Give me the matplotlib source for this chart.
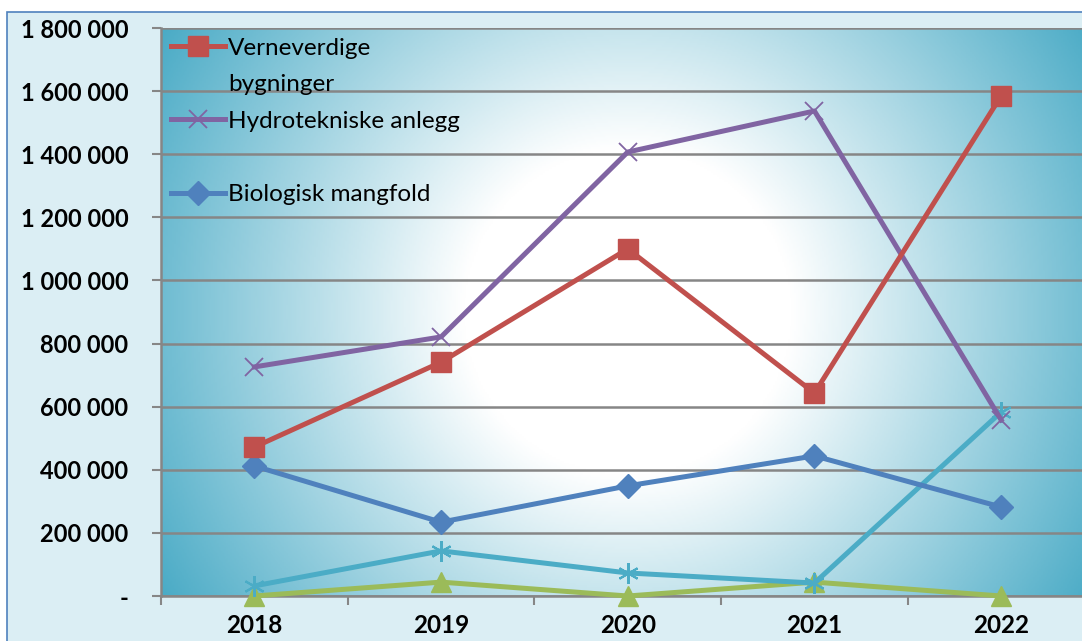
import matplotlib
matplotlib.use('Agg')
from matplotlib import pyplot as plt
from matplotlib.lines import Line2D
from matplotlib.patches import Rectangle
from matplotlib.colors import LinearSegmentedColormap
import numpy as np

plt.rcParams['font.family'] = ['Lato', 'DejaVu Sans']

years = ['2018', '2019', '2020', '2021', '2022']
verneverdige = [472000, 741000, 1100000, 643000, 1585000]
hydroteknisk = [726000, 821000, 1407000, 1537000, 558000]
biologisk = [412000, 234000, 349000, 444000, 282000]
serie4 = [32000, 143000, 73000, 41000, 583000]
serie5 = [0, 44000, 0, 44000, 0]
yticks = [0, 200000, 400000, 600000, 800000, 1000000, 1200000, 1400000, 1600000, 1800000]


def fmt(v):
    if v == 0:
        return '-'
    return '{:,}'.format(v).replace(',', ' ')


W, H = 1082, 641
fig = plt.figure(figsize=(W / 100, H / 100), dpi=100)
fig.patch.set_facecolor('white')
# chart area frame
frame = Rectangle((7 / W, -0.1), 1.2, 1 - 12 / H + 0.1, transform=fig.transFigure,
                  facecolor='#dbeef4', edgecolor='#4f81bd', lw=1.2, zorder=-10)
fig.patches.append(frame)

left, right, top, bottom = 161, 1094.5, 28, 596
pw, ph = right - left, bottom - top
ax = fig.add_axes([left / W, 1 - bottom / H, pw / W, ph / H])
ax.set_facecolor('none')

# radial gradient background (round in pixel space)
gx, gy = np.meshgrid(np.linspace(-pw / 2, pw / 2, 500), np.linspace(-ph / 2, ph / 2, 300))
r = np.sqrt(gx ** 2 + gy ** 2) / np.sqrt((pw / 2) ** 2 + (ph / 2) ** 2)
cmap = LinearSegmentedColormap.from_list('g', [(0, '#ffffff'), (0.3, '#ffffff'), (1, '#4aabc6')])
ax.imshow(r, cmap=cmap, extent=[0, 1, 0, 1], transform=ax.transAxes, aspect='auto', zorder=0, vmin=0, vmax=1)

x = np.arange(len(years))
lw = 3.6
ax.plot(x, serie5, color='#9bbb59', lw=lw, marker='^', ms=15, zorder=3, clip_on=False)
ax.plot(x, serie4, color='#4bacc6', lw=lw, marker=(6, 2, 0), ms=15, mew=1.5, zorder=4, clip_on=False)
ax.plot(x, biologisk, color='#4f81bd', lw=lw, marker='D', ms=12, zorder=5, clip_on=False)
ax.plot(x, hydroteknisk, color='#8064a2', lw=lw, marker='x', ms=13, mew=1.3, zorder=6, clip_on=False)
ax.plot(x, verneverdige, color='#c0504d', lw=lw, marker='s', ms=14, zorder=7, clip_on=False)

ax.set_xlim(-0.5, len(years) - 0.5)
ax.set_ylim(0, 1800000)
ax.set_yticks(yticks)
ax.set_yticklabels([fmt(v) for v in yticks], fontweight='bold', fontsize=17)
ax.set_xticks(x)
ax.set_xticklabels(years, fontweight='bold', fontsize=17.5)
ax.set_xticks(np.arange(len(years) + 1) - 0.5, minor=True)
ax.tick_params(axis='x', which='major', length=0, pad=13)
ax.tick_params(axis='x', which='minor', length=6.5, width=1.5, color='#868686', direction='out')
ax.tick_params(axis='y', length=6.5, width=1.5, color='#868686', pad=17)
ax.grid(axis='y', color='#868686', lw=1.8, zorder=1)
ax.set_axisbelow(True)
for s in ['top', 'right']:
    ax.spines[s].set_visible(False)
for s in ['left', 'bottom']:
    ax.spines[s].set_color('#868686')
    ax.spines[s].set_linewidth(1.8)

blank = Line2D([], [], color='none')
handles = [
    Line2D([], [], color='#c0504d', lw=lw, marker='s', ms=14),
    blank,
    Line2D([], [], color='#8064a2', lw=lw, marker='x', ms=13, mew=1.3),
    blank,
    Line2D([], [], color='#4f81bd', lw=lw, marker='D', ms=12),
]
labels = ['Verneverdige', 'bygninger', 'Hydrotekniske anlegg', '', 'Biologisk mangfold']
leg = ax.legend(handles, labels, loc='upper left', bbox_to_anchor=(0.0, 1.0), frameon=False,
                fontsize=17.5, handlelength=2.25, handletextpad=0.1, labelspacing=0.64,
                borderaxespad=0.0)
leg.set_zorder(10)

fig.savefig('out.png', dpi=100)
